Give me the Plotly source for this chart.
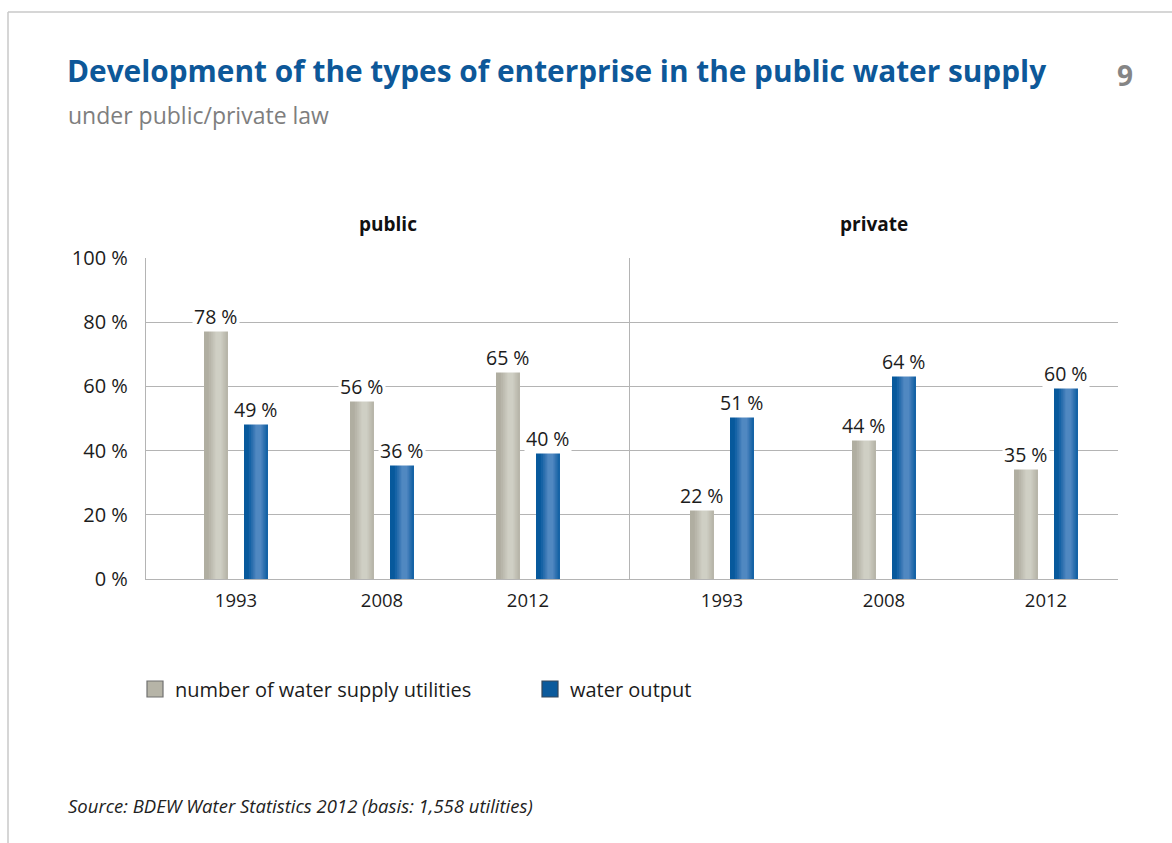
import plotly.graph_objects as go

# ---- data -------------------------------------------------------------
years = ["1993", "2008", "2012"]
public_utilities = [78, 56, 65]
public_output = [49, 36, 40]
private_utilities = [22, 44, 35]
private_output = [51, 64, 60]
panel_titles = ["public", "private"]
series_names = ["number of water supply utilities", "water output"]
y_tick_values = [0, 20, 40, 60, 80, 100]
y_tick_labels = ["0 %", "20 %", "40 %", "60 %", "80 %", "100 %"]

# ---- page geometry (px) ------------------------------------------------
FIG_W, FIG_H = 1172, 843
PLOT_L, PLOT_R, PLOT_T, PLOT_B = 146, 1118, 258, 579
SPLIT = 630
FONT = "Open Sans"
TEXT = "#1c1c1c"
GRID = "#b4b4b4"


def px_x(px):
    return (px - PLOT_L) / (PLOT_R - PLOT_L)


def px_y(py):
    return (PLOT_B - py) / (PLOT_B - PLOT_T)


# bar geometry relative to a year's group centre, px
BAR_PX = 24
BAR_SHIFT = 20          # utilities bar left of centre, output bar right of it
HIGHLIGHT = 0.6         # where the cylinder highlight sits across a bar

# cylinder shading: (fraction of bar width, colour), outermost first
GREY_SHADES = [(1.0, "#b0aea1"), (0.8, "#b8b6aa"), (0.6, "#c0bfb3"),
               (0.42, "#c8c7bc"), (0.26, "#cfcfc4")]
BLUE_SHADES = [(1.0, "#07599c"), (0.8, "#1663a6"), (0.6, "#2b6fae"),
               (0.42, "#3f7bb8"), (0.26, "#5088c1")]

panels = [
    dict(title=panel_titles[0], xa="x", ya="y", left=PLOT_L, right=SPLIT,
         first=236, step=146, series=[public_utilities, public_output]),
    dict(title=panel_titles[1], xa="x2", ya="y2", left=SPLIT, right=PLOT_R,
         first=722, step=162, series=[private_utilities, private_output]),
]

fig = go.Figure()
annotations = []

for p in panels:
    step = p["step"]
    for s_idx, (values, shades) in enumerate(zip(p["series"], [GREY_SHADES, BLUE_SHADES])):
        centre_off = -BAR_SHIFT if s_idx == 0 else BAR_SHIFT
        bar_left = centre_off - BAR_PX / 2
        for frac, colour in shades:
            lw = BAR_PX * frac
            c = min(max(HIGHLIGHT * BAR_PX, lw / 2), BAR_PX - lw / 2)
            left = bar_left + c - lw / 2
            fig.add_trace(go.Bar(
                x=years, y=values, width=lw / step, offset=left / step,
                marker=dict(color=colour, line=dict(width=0)),
                xaxis=p["xa"], yaxis=p["ya"], showlegend=False,
                hoverinfo="skip" if frac < 1 else None,
                name=series_names[s_idx],
            ))
        # value labels, placed at each year's category index
        for i, v in enumerate(values):
            annotations.append(dict(
                x=i, y=v, xref=p["xa"], yref=p["ya"], text=f"{v} %",
                showarrow=False, xshift=centre_off, yshift=-3,
                yanchor="bottom", xanchor="center", bgcolor="white", borderpad=1,
                font=dict(family=FONT, size=19.5, color=TEXT),
            ))
    annotations.append(dict(
        x=px_x((p["left"] + p["right"]) / 2), y=px_y(224), xref="paper", yref="paper",
        text=f"<b>{p['title']}</b>", showarrow=False, xanchor="center", yanchor="middle",
        font=dict(family=FONT, size=19, color="#111111"),
    ))

# legend entries with square swatches
legend_styles = [("#b6b4a7", "#707070"), ("#0b5a9c", "#34475b")]
for name, (fill, edge) in zip(series_names, legend_styles):
    fig.add_trace(go.Scatter(
        x=[None], y=[None], mode="markers", name=name,
        marker=dict(symbol="square", size=18, color=fill, line=dict(color=edge, width=1.2)),
        xaxis="x", yaxis="y", showlegend=True,
    ))

annotations += [
    dict(x=px_x(66), y=px_y(115), xref="paper", yref="paper", text="under public/private law",
         showarrow=False, xanchor="left", yanchor="middle",
         font=dict(family=FONT, size=23, color="#7e7e7e")),
    dict(x=px_x(1125), y=px_y(75), xref="paper", yref="paper", text="<b>9</b>",
         showarrow=False, xanchor="center", yanchor="middle",
         font=dict(family=FONT, size=28, color="#858585")),
    dict(x=px_x(66), y=px_y(805), xref="paper", yref="paper",
         text="<i>Source: BDEW Water Statistics 2012 (basis: 1,558 utilities)</i>",
         showarrow=False, xanchor="left", yanchor="middle",
         font=dict(family=FONT, size=18.5, color="#222222")),
]

frame = dict(type="line", xref="paper", yref="paper", line=dict(color="#c8c8c8", width=1.5))
shapes = [
    dict(frame, x0=px_x(8), x1=px_x(FIG_W), y0=px_y(12), y1=px_y(12)),
    dict(frame, x0=px_x(8), x1=px_x(8), y0=px_y(12), y1=px_y(FIG_H)),
]

axis_common = dict(type="category", showgrid=False, showline=True, linecolor=GRID,
                   linewidth=1.3, ticks="", ticklabelstandoff=5,
                   tickfont=dict(family=FONT, size=18.5, color=TEXT), fixedrange=True)
yaxis_common = dict(range=[0, 100], tickvals=y_tick_values, ticktext=y_tick_labels,
                    showgrid=True, gridcolor=GRID, gridwidth=1.3, zeroline=False,
                    showline=True, linecolor=GRID, linewidth=1.3, ticks="",
                    tickfont=dict(family=FONT, size=20, color=TEXT), fixedrange=True)

x1_dom = [0, px_x(SPLIT)]
x2_dom = [px_x(SPLIT), 1]

fig.update_layout(
    width=FIG_W, height=FIG_H, autosize=False,
    margin=dict(l=PLOT_L, r=FIG_W - PLOT_R, t=PLOT_T, b=FIG_H - PLOT_B, pad=0),
    paper_bgcolor="white", plot_bgcolor="white",
    barmode="overlay",
    title=dict(text="<b>Development of the types of enterprise in the public water supply</b>",
               xref="container", yref="container", x=67 / FIG_W, y=1 - 72 / FIG_H,
               xanchor="left", yanchor="middle",
               font=dict(family=FONT, size=29.8, color="#0d5899")),
    xaxis=dict(axis_common, domain=x1_dom, anchor="y",
               range=[(panels[0]["left"] - panels[0]["first"]) / panels[0]["step"],
                      (panels[0]["right"] - panels[0]["first"]) / panels[0]["step"]]),
    xaxis2=dict(axis_common, domain=x2_dom, anchor="y2",
                range=[(panels[1]["left"] - panels[1]["first"]) / panels[1]["step"],
                       (panels[1]["right"] - panels[1]["first"]) / panels[1]["step"]]),
    yaxis=dict(yaxis_common, anchor="x", ticklabelstandoff=13),
    yaxis2=dict(yaxis_common, anchor="x2", showticklabels=False),
    legend=dict(orientation="h", x=px_x(135), y=px_y(689), xanchor="left", yanchor="middle",
                xref="paper", yref="paper", entrywidth=350, entrywidthmode="pixels",
                font=dict(family=FONT, size=20, color=TEXT), bgcolor="rgba(0,0,0,0)",
                itemsizing="trace"),
    annotations=annotations,
    shapes=shapes,
    showlegend=True,
)

fig.write_html("out.html")
